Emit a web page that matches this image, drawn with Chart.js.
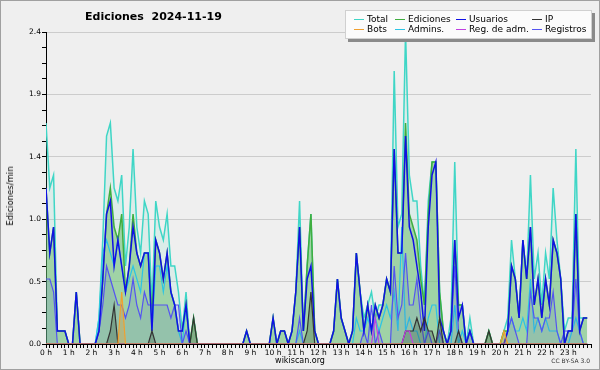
<!DOCTYPE html>
<html>
<head>
<meta charset="utf-8">
<script src="https://cdn.jsdelivr.net/npm/chart.js@4"></script>
<style>
  html, body { margin: 0; padding: 0; background: #f0f0f0; }
  #wrap { position: relative; width: 600px; height: 370px; background: #efefef; font-family: "DejaVu Sans", sans-serif; overflow: hidden; }
  #frame { position: absolute; left: 0; top: 0; width: 600px; height: 370px; box-sizing: border-box; border: 1px solid #a0a0a0; pointer-events: none; }
  canvas { position: absolute; left: 0; top: 0; }
  .txt { position: absolute; white-space: nowrap; color: #000; }
  #title { left: 85px; top: 10px; font-size: 11px; font-weight: bold; }
  #ytitle { left: 10px; top: 196px; font-size: 8.5px; transform: translate(-50%, -50%) rotate(-90deg); }
  #site { left: 300px; top: 356px; font-size: 8px; transform: translateX(-50%); }
  #cc { right: 10px; top: 357px; font-size: 6px; color: #333; }
  #legend { position: absolute; left: 345px; top: 10px; width: 245px; height: 27px; background: #fbfbfb; border: 1px solid #d0d0d0; box-shadow: 3px 3px 0 #8a8a8a; }
  .li { position: absolute; font-size: 9px; line-height: 9px; }
  .li i { position: absolute; left: -13px; top: 4px; width: 10px; height: 1px; }
</style>
</head>
<body>
<div id="wrap">
  <canvas id="chart" width="600" height="370"></canvas>
  <div class="txt" id="title">Ediciones&nbsp;&nbsp;2024-11-19</div>
  <div class="txt" id="ytitle">Ediciones/min</div>
  <div class="txt" id="site">wikiscan.org</div>
  <div class="txt" id="cc">CC BY-SA 3.0</div>
  <div id="legend"></div>
  <div id="frame"></div>
</div>
<script>
// DATA (edits per minute, one value per 10 minutes)
const hourLabels = ['0 h','1 h','2 h','3 h','4 h','5 h','6 h','7 h','8 h','9 h','10 h','11 h',
  '12 h','13 h','14 h','15 h','16 h','17 h','18 h','19 h','20 h','21 h','22 h','23 h'];
const yTickLabels = ['0.0','0.5','1.0','1.4','1.9','2.4'];

const total = [
  1.7,1.2,1.3,0.1,0.1,0.1, 0,0,0.4,0,0,0,
  0,0,0.2,0.8,1.6,1.7, 1.2,1.1,1.3,0.6,0.9,1.5,
  0.9,0.7,1.1,1.0,0.3,1.1, 0.9,0.8,1.0,0.6,0.6,0.4,
  0.1,0.4,0,0.2,0,0, 0,0,0,0,0,0,
  0,0,0,0,0,0.1, 0,0,0,0,0,0,
  0.2,0,0.1,0.1,0,0.1, 0.4,1.1,0.1,0.6,1.0,0.1,
  0,0,0,0,0.1,0.5, 0.2,0.1,0,0.1,0.7,0.4,
  0.2,0.3,0.4,0.2,0.3,0.3, 0.5,0.4,2.1,0.9,1.0,2.4,
  1.3,1.1,1.1,0.6,0.3,1.1, 1.4,1.4,0.4,0.1,0,0.2,
  1.4,0.3,0.3,0,0.2,0, 0,0,0,0.1,0,0,
  0,0.1,0.2,0.8,0.5,0.2, 0.8,0.5,1.3,0.5,0.7,0.3,
  0.7,0.5,1.2,0.8,0.5,0.1, 0.2,0.2,1.5,0.2,0.2,0.2
];
const ediciones = [
  1.2,0.7,0.9,0.1,0.1,0.1, 0,0,0.4,0,0,0,
  0,0,0.1,0.5,1.0,1.2, 0.9,0.8,1.0,0.4,0.6,1.0,
  0.7,0.6,0.7,0.7,0.2,0.8, 0.7,0.5,0.7,0.4,0.3,0.1,
  0.1,0.3,0,0.2,0,0, 0,0,0,0,0,0,
  0,0,0,0,0,0.1, 0,0,0,0,0,0,
  0.2,0,0.1,0.1,0,0.1, 0.4,0.9,0.1,0.6,1.0,0.1,
  0,0,0,0,0.1,0.5, 0.2,0.1,0,0.1,0.7,0.4,
  0.1,0.3,0.1,0.3,0.2,0.3, 0.5,0.4,1.5,0.7,0.7,1.7,
  1.0,0.9,0.8,0.5,0.3,1.0, 1.4,1.4,0.4,0.1,0,0.1,
  0.8,0.3,0.3,0,0.1,0, 0,0,0,0.1,0,0,
  0,0.1,0.1,0.6,0.5,0.2, 0.8,0.5,0.9,0.3,0.5,0.2,
  0.5,0.3,0.8,0.7,0.5,0, 0.1,0.1,1.0,0.1,0.2,0.2
];
const usuarios = [
  1.2,0.7,0.9,0.1,0.1,0.1, 0,0,0.4,0,0,0,
  0,0,0.1,0.5,1.0,1.1, 0.6,0.8,0.6,0.4,0.6,0.9,
  0.7,0.6,0.7,0.7,0.1,0.8, 0.7,0.5,0.7,0.4,0.3,0.1,
  0.1,0.3,0,0,0,0, 0,0,0,0,0,0,
  0,0,0,0,0,0.1, 0,0,0,0,0,0,
  0.2,0,0.1,0.1,0,0.1, 0.4,0.9,0.1,0.5,0.6,0.1,
  0,0,0,0,0.1,0.5, 0.2,0.1,0,0.1,0.7,0.4,
  0.1,0.3,0.1,0.3,0.2,0.3, 0.5,0.4,1.5,0.7,0.7,1.6,
  0.9,0.8,0.6,0.4,0.1,0.9, 1.3,1.4,0.2,0.1,0,0.1,
  0.8,0.2,0.3,0,0.1,0, 0,0,0,0,0,0,
  0,0,0.1,0.6,0.5,0.2, 0.8,0.5,0.9,0.3,0.5,0.2,
  0.5,0.3,0.8,0.7,0.5,0, 0.1,0.1,1.0,0.1,0.2,0.2
];
const ip = [
  0,0,0,0,0,0, 0,0,0,0,0,0,
  0,0,0,0,0,0.1, 0.3,0,0,0,0,0,
  0,0,0,0,0.1,0, 0,0,0,0,0,0,
  0,0,0,0.2,0,0, 0,0,0,0,0,0,
  0,0,0,0,0,0, 0,0,0,0,0,0,
  0,0,0,0,0,0, 0,0,0,0.1,0.4,0,
  0,0,0,0,0,0, 0,0,0,0,0,0,
  0,0,0,0,0,0, 0,0,0,0,0,0.1,
  0.1,0.1,0.2,0.1,0.2,0.1, 0.1,0,0.2,0,0,0,
  0,0.1,0,0,0,0, 0,0,0,0.1,0,0,
  0,0,0,0,0,0, 0,0,0,0,0,0,
  0,0,0,0,0,0, 0,0,0,0,0,0
];
const bots = [
  0,0,0,0,0,0, 0,0,0,0,0,0,
  0,0,0,0,0,0, 0,0,0.4,0,0,0,
  0,0,0,0,0,0, 0,0,0,0,0,0,
  0,0,0,0,0,0, 0,0,0,0,0,0,
  0,0,0,0,0,0, 0,0,0,0,0,0,
  0,0,0,0,0,0, 0,0,0,0,0,0,
  0,0,0,0,0,0, 0,0,0,0,0,0,
  0,0,0,0,0,0, 0,0,0,0,0,0,
  0,0,0,0,0,0, 0,0,0,0,0,0,
  0,0,0,0,0,0, 0,0,0,0,0,0,
  0,0.1,0,0,0,0, 0,0,0,0,0,0,
  0,0,0,0,0,0, 0,0,0,0,0,0
];
const admins = [
  0,0,0,0,0,0, 0,0,0,0,0,0,
  0,0,0.2,0.7,0.8,0.7, 0.6,0.8,0.6,0.4,0.5,0.6,
  0.5,0.4,0.7,0.7,0.1,0.6, 0.6,0.4,0.6,0.4,0.3,0.1,
  0,0.3,0,0,0,0, 0,0,0,0,0,0,
  0,0,0,0,0,0, 0,0,0,0,0,0,
  0,0,0,0,0,0, 0,0.1,0,0,0,0,
  0,0,0,0,0,0, 0,0,0,0,0.2,0.1,
  0.1,0.2,0.1,0.2,0.1,0.2, 0.3,0.2,0.4,0.1,0.9,0.1,
  0.2,0.1,0.1,0,0,0.2, 0.3,0.3,0,0,0,0,
  0.3,0,0.1,0,0,0, 0,0,0,0,0,0,
  0,0,0.1,0.2,0.1,0.1, 0.2,0.1,0.5,0.1,0.2,0.1,
  0.2,0.1,0.1,0.1,0,0, 0,0.1,0.2,0.1,0,0
];
const regAdm = [
  0,0,0,0,0,0, 0,0,0,0,0,0,
  0,0,0,0,0,0, 0,0,0,0,0,0,
  0,0,0,0,0,0, 0,0,0,0,0,0,
  0,0,0,0,0,0, 0,0,0,0,0,0,
  0,0,0,0,0,0, 0,0,0,0,0,0,
  0,0,0,0,0,0, 0,0,0,0,0,0,
  0,0,0,0,0,0, 0,0,0,0,0,0,
  0,0,0,0.2,0,0, 0,0,0,0,0,0.1,
  0.1,0,0,0,0,0, 0,0,0,0,0,0,
  0,0,0,0,0,0, 0,0,0,0,0,0,
  0,0,0,0,0,0, 0,0,0,0,0,0,
  0,0,0,0,0,0, 0,0,0,0,0,0
];
const registros = [
  0.5,0.5,0.4,0,0,0, 0,0,0,0,0,0,
  0,0,0.1,0.3,0.6,0.5, 0.4,0.3,0.3,0.2,0.3,0.5,
  0.3,0.2,0.4,0.3,0.3,0.3, 0.3,0.3,0.3,0.2,0.3,0.3,
  0,0.1,0,0,0,0, 0,0,0,0,0,0,
  0,0,0,0,0,0, 0,0,0,0,0,0,
  0,0,0,0,0,0, 0,0.2,0,0,0,0,
  0,0,0,0,0,0, 0,0,0,0,0,0,
  0.1,0,0.3,0,0.1,0, 0,0,0.6,0.2,0.3,0.7,
  0.3,0.3,0.5,0.2,0,0.1, 0,0,0.1,0,0,0.1,
  0.6,0.1,0,0,0.1,0, 0,0,0,0,0,0,
  0,0,0.1,0.2,0.1,0, 0,0,0.4,0.2,0.2,0.1,
  0.2,0.2,0.4,0.1,0,0.1, 0.1,0.1,0.5,0.1,0,0
];

// SERIES STYLE
const series = [
  { label: 'Total',        data: total,     color: '#3fd6c6', fill: 'rgba(90,215,195,0.13)', order: 9, width: 1.5 },
  { label: 'Ediciones',    data: ediciones, color: '#3fae3f', fill: 'rgba(100,185,100,0.5)', order: 8, width: 1.5 },
  { label: 'Usuarios',     data: usuarios,  color: '#1010e6', fill: false,                   order: 3, width: 1.5 },
  { label: 'IP',           data: ip,        color: '#333333', fill: 'rgba(40,60,40,0.25)',   order: 2, width: 1.2 },
  { label: 'Bots',         data: bots,      color: '#f0a030', fill: 'rgba(240,160,48,0.3)',  order: 1, width: 1.2 },
  { label: 'Admins.',      data: admins,    color: '#2cc4e4', fill: false,                   order: 5, width: 1.2 },
  { label: 'Reg. de adm.', data: regAdm,    color: '#c040e0', fill: false,                   order: 1, width: 1.2 },
  { label: 'Registros',    data: registros, color: '#5454f0', fill: 'rgba(70,90,200,0.14)',  order: 4, width: 1.2 }
];

// LEGEND (4 columns x 2 rows)
const legendCols = [21, 62, 123, 199];
const legendEl = document.getElementById('legend');
series.forEach((s, i) => {
  const d = document.createElement('div');
  d.className = 'li';
  d.style.left = legendCols[i % 4] + 'px';
  d.style.top = (i < 4 ? 4 : 14) + 'px';
  d.innerHTML = `<i style="background:${s.color}"></i>${s.label}`;
  legendEl.appendChild(d);
});

// AXIS TICKS
const xTicks = [];
for (let i = 0; i <= 144; i++) xTicks.push({ value: i });
const yTicks = [];
for (let i = 0; i <= 20; i++) yTicks.push({ value: i * 0.12 });

new Chart(document.getElementById('chart'), {
  type: 'line',
  data: {
    datasets: series.map(s => ({
      label: s.label,
      data: s.data.map((v, i) => ({ x: i, y: v })),
      borderColor: s.color,
      backgroundColor: s.fill || 'transparent',
      fill: s.fill ? 'origin' : false,
      borderWidth: s.width,
      pointRadius: 0,
      tension: 0,
      order: s.order
    }))
  },
  options: {
    responsive: false,
    animation: false,
    devicePixelRatio: 1,
    layout: { padding: { left: 0, right: 9, top: 32, bottom: 0 } },
    plugins: { legend: { display: false }, tooltip: { enabled: false } },
    scales: {
      x: {
        type: 'linear', min: 0, max: 144,
        afterBuildTicks: s => { s.ticks = xTicks.map(t => ({ value: t.value })); },
        afterFit: s => { s.height = 26; },
        border: { display: true, color: '#000', width: 1 },
        grid: { drawOnChartArea: false, drawTicks: true, tickLength: 4, tickColor: '#000' },
        ticks: {
          autoSkip: false, maxRotation: 0, padding: 1, color: '#000',
          font: { family: 'DejaVu Sans', size: 7.5 },
          callback: v => (v % 6 === 0 && v < 144) ? hourLabels[v / 6] : ''
        }
      },
      y: {
        min: 0, max: 2.4,
        afterBuildTicks: s => { s.ticks = yTicks.map(t => ({ value: t.value })); },
        afterFit: s => { s.width = 46; },
        border: { display: true, color: '#000', width: 1 },
        grid: {
          color: c => (c.index % 4 === 0 && c.index > 0) ? '#cccccc' : 'transparent',
          tickColor: '#000', tickLength: 4, drawTicks: true
        },
        ticks: {
          padding: 1, color: '#000',
          font: { family: 'DejaVu Sans', size: 7.5 },
          callback: (v, i) => i % 4 === 0 ? yTickLabels[i / 4] : ''
        }
      }
    }
  }
});
</script>
</body>
</html>
